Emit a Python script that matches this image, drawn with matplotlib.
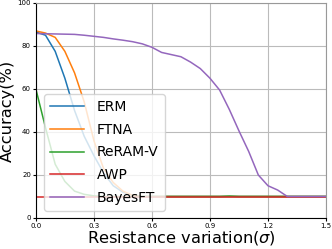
import numpy as np
import matplotlib.pyplot as plt

# resistance variation (sigma)
sigma = [0.0, 0.05, 0.1, 0.15, 0.2, 0.25, 0.3, 0.35, 0.4, 0.45, 0.5, 0.55, 0.6, 0.65, 0.7, 0.75,
         0.8, 0.85, 0.9, 0.95, 1.0, 1.05, 1.1, 1.15, 1.2, 1.25, 1.3, 1.35, 1.4, 1.45, 1.5]

erm = [86.5, 85, 77.5, 65, 50, 38, 29, 21, 15, 12, 10.5, 10, 10, 10, 10, 10,
       10, 10, 10, 10, 10, 10, 10, 10, 10, 10, 10, 10, 10, 10, 10]
ftna = [87, 86, 84, 77.5, 67.5, 54, 36, 23, 16.5, 12.5, 10.5, 10, 10, 10, 10, 10,
        10, 10, 10, 10, 10, 10, 10, 10, 10, 10, 10, 10, 10, 10, 10]
reram_v = [60, 42, 25, 17, 12.5, 11, 10.3, 10, 10, 10, 10, 10, 10, 10, 10, 10,
           10, 10, 10, 10, 10.2, 10, 10, 10, 10, 10, 10, 10, 10, 10, 10]
awp = [9.8] * 31
bayesft = [85.8, 85.7, 85.6, 85.5, 85.4, 85.0, 84.5, 84.0, 83.3, 82.7, 82.0, 81.0, 79.4, 77.0, 76.0, 75.0,
           72.5, 69.5, 65.0, 59.5, 50.5, 40.5, 31.0, 20.0, 15.0, 13.0, 10.0, 10.0, 10.0, 10.0, 10.0]

fig = plt.figure(figsize=(3.32, 2.49), dpi=100)
ax = fig.add_axes([0.108, 0.1245, 0.874, 0.8635])

ax.plot(sigma, erm, label='ERM', lw=1.1)
ax.plot(sigma, ftna, label='FTNA', lw=1.1)
ax.plot(sigma, reram_v, label='ReRAM-V', lw=1.1)
ax.plot(sigma, awp, label='AWP', lw=1.1)
ax.plot(sigma, bayesft, label='BayesFT', lw=1.1)

ax.set_xlim(0, 1.5)
ax.set_ylim(0, 100)
ax.set_xticks([0.0, 0.3, 0.6, 0.9, 1.2, 1.5])
ax.set_yticks([0, 20, 40, 60, 80, 100])
ax.tick_params(labelsize=5, length=2, pad=1.5)
ax.grid(True, color='#bbbbbb', lw=0.8)
for s in ['top', 'right']:
    ax.spines[s].set_color('#999999')

ax.set_xlabel('Resistance variation($\\sigma$)', fontsize=11.7, labelpad=0)
ax.set_ylabel('Accuracy(%)', fontsize=11.7, labelpad=2)

ax.legend(loc='lower left', bbox_to_anchor=(0.028, 0.033), borderaxespad=0, fontsize=10,
          handlelength=2.45, handletextpad=0.9, labelspacing=0.62, borderpad=0.45, framealpha=0.8)

fig.savefig('out.png', dpi=100)
